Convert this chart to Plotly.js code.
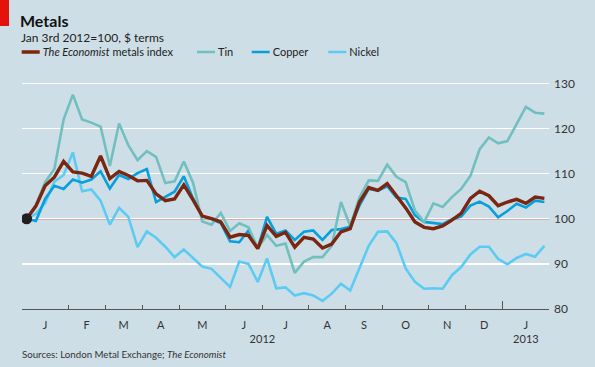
<!DOCTYPE html>
<html><head><meta charset="utf-8">
<script src="https://cdn.plot.ly/plotly-3.0.1.min.js"></script>
<style>html,body{margin:0;padding:0;background:#cedee6}#chart{width:595px;height:367px}</style>
</head><body><div id="chart"></div>
<script>
// Weekly observations (Tuesdays), Jan 3rd 2012 = 100
const weekDates = [
 "2012-01-03","2012-01-10","2012-01-17","2012-01-24","2012-01-31",
 "2012-02-07","2012-02-14","2012-02-21","2012-02-28",
 "2012-03-06","2012-03-13","2012-03-20","2012-03-27",
 "2012-04-03","2012-04-10","2012-04-17","2012-04-24",
 "2012-05-01","2012-05-08","2012-05-15","2012-05-22","2012-05-29",
 "2012-06-05","2012-06-12","2012-06-19","2012-06-26",
 "2012-07-03","2012-07-10","2012-07-17","2012-07-24","2012-07-31",
 "2012-08-07","2012-08-14","2012-08-21","2012-08-28",
 "2012-09-04","2012-09-11","2012-09-18","2012-09-25",
 "2012-10-02","2012-10-09","2012-10-16","2012-10-23","2012-10-30",
 "2012-11-06","2012-11-13","2012-11-20","2012-11-27",
 "2012-12-04","2012-12-11","2012-12-18","2012-12-25",
 "2013-01-01","2013-01-08","2013-01-15","2013-01-22","2013-01-29"];

const economistIndex = [100,102.8,107.3,109.2,112.7,110.4,110.1,109.4,113.9,108.9,110.5,109.6,108.4,108.5,105.5,104,104.4,107.5,104.2,100.6,100,99.3,95.9,96.5,96.3,93.4,98.5,96.1,97,93.7,95.9,95.5,93.5,94.4,97.1,97.8,103.7,106.9,106.3,107.8,105.1,102.4,99.3,98.1,97.8,98.4,99.7,101.2,104.5,106.1,105.1,102.9,103.7,104.3,103.4,104.8,104.5];
const tin = [100,103,108.1,111,122,127.5,122,121.3,120.4,111.7,121.1,116.3,113,115,113.7,107.9,108.3,112.7,108,99.4,98.7,101.3,97.3,99,98.1,93.5,96.4,94,94.5,88,90.5,91.5,91.5,94,103.7,98.4,104.7,108.5,108.4,112,109.3,108.1,101.8,99.3,103.4,102.6,104.8,106.6,109.5,115.4,118,116.7,117.2,120.9,124.8,123.5,123.3];
const copper = [100,99.5,104.4,107.3,106.6,108.7,108,108.7,110.5,106.7,109.7,108.8,110.1,111,103.7,104.8,106,109.4,104.5,100.5,100,99,95,94.8,97.4,93.4,100.4,96.7,97.4,95.3,97.1,97.4,95.3,97.5,97.7,98.2,102.9,106.6,106.2,107.2,104.7,104.4,100.8,99.3,99,98.8,99.9,100.5,102.9,103.8,102.7,100.3,101.7,103.3,102.5,104,103.7];
const nickel = [100,101.1,103.5,108.2,109.7,114.7,106.1,106.5,104,98.7,102.4,100.4,93.7,97.2,95.8,93.8,91.5,93.2,91.3,89.4,88.9,87,84.9,90.5,90,86,91.2,84.6,84.8,83,83.5,83,81.8,83.4,85.6,84.1,89,94,97.1,97.2,94.6,89,86,84.5,84.6,84.5,87.5,89.3,92.1,93.8,93.8,91.1,89.9,91.3,92.2,91.6,94];

const monthLetters = ["J","F","M","A","M","J","J","A","S","O","N","D"];
const yTickVals = [80,90,100,110,120,130];
const seriesNames = ["<i>The Economist</i> metals index","Tin","Copper","Nickel"];

// ---- derived axis structure (one slot per week) ----
const idx = weekDates.map((d,i)=>i);
const n = weekDates.length;
const mon = weekDates.map(d=>+d.slice(5,7));
const yr = weekDates.map(d=>d.slice(0,4));
const monthBounds = [], monthMid = [], monthText = [];
const yearBounds = [], yearMid = [], yearText = [];
for (let i=0;i<n;i++){
  if (i===0 || mon[i]!==mon[i-1]) monthBounds.push(i-0.5);
  if (i===0 || yr[i]!==yr[i-1]) yearBounds.push(i-0.5);
}
monthBounds.push(n-0.5);
for (let k=0;k<monthBounds.length-1;k++){
  monthMid.push((monthBounds[k]+monthBounds[k+1])/2);
  monthText.push(monthLetters[mon[monthBounds[k]+0.5]-1]);
}
const yb = yearBounds.concat([n-0.5]);
for (let k=0;k<yb.length-1;k++){
  yearMid.push((yb[k]+yb[k+1])/2);
  yearText.push(yr[yb[k]+0.5]);
}
const minorBounds = monthBounds.filter(b=>yearBounds.indexOf(b)<0);

const FONT = "Lato, 'Open Sans', sans-serif";
const xr = [-0.5, n-0.5];

const W=595, H=367, L=22, R=46, T=82, B=58;
const pw = W-L-R, ph = H-T-B;
const px = v => (v-L)/pw;          // pixel -> paper x
const py = v => (H-B-v)/ph;        // pixel -> paper y

const traces = [
  {x: idx, y: nickel, name: seriesNames[3], legend:"legend4", mode:"lines", line:{color:"#5ccbf3", width:2.6}, hoverinfo:"skip"},
  {x: idx, y: copper, name: seriesNames[2], legend:"legend3", mode:"lines", line:{color:"#079fdc", width:2.6}, hoverinfo:"skip"},
  {x: idx, y: tin, name: seriesNames[1], legend:"legend2", mode:"lines", line:{color:"#72bfbf", width:2.6}, hoverinfo:"skip"},
  {x: idx, y: economistIndex, name: seriesNames[0], legend:"legend", mode:"lines", line:{color:"#7a2611", width:3.4}, hoverinfo:"skip"},
  {x: [idx[0]], y: [economistIndex[0]], mode:"markers", marker:{color:"#231f20", size:11}, showlegend:false, hoverinfo:"skip"},
  {x: [], y: [], xaxis:"x2", showlegend:false, hoverinfo:"skip"},
  {x: [], y: [], xaxis:"x3", showlegend:false, hoverinfo:"skip"}
];

const legendBase = {orientation:"h", xanchor:"left", y: py(52), yanchor:"middle",
  font:{size:11, color:"#222", family:FONT}, bgcolor:"rgba(0,0,0,0)", borderwidth:0};
const legendTextX = [42.7, 218, 272.7, 349.3];

const layout = {
  width: W, height: H,
  margin: {l:L, r:R, t:T, b:B, autoexpand:false},
  paper_bgcolor: "#cedee6", plot_bgcolor: "#cedee6",
  font: {family: FONT, color: "#222", size: 11},
  showlegend: true,
  legend:  Object.assign({}, legendBase, {x: px(legendTextX[0]-40)}),
  legend2: Object.assign({}, legendBase, {x: px(legendTextX[1]-40)}),
  legend3: Object.assign({}, legendBase, {x: px(legendTextX[2]-40)}),
  legend4: Object.assign({}, legendBase, {x: px(legendTextX[3]-40)}),
  title: {text:"<b>Metals</b>", font:{size:16, color:"#111", family:FONT},
          x: 20/W, xanchor:"left", xref:"container", y: 1-21/H, yanchor:"middle", yref:"container"},
  xaxis: {range: xr, showgrid:false, zeroline:false, showline:true, linecolor:"#555", linewidth:1,
          tickmode:"array", tickvals: yearBounds, ticks:"inside", ticklen:8, tickcolor:"#555", tickwidth:1,
          showticklabels:false,
          minor:{tickmode:"array", tickvals: minorBounds, ticks:"inside", ticklen:4, tickcolor:"#555", tickwidth:1, showgrid:false}},
  xaxis2: {range: xr, overlaying:"x", anchor:"y", side:"bottom", showgrid:false, zeroline:false, showline:false,
           tickmode:"array", tickvals: monthMid, ticktext: monthText, ticks:"", ticklabelstandoff:8,
           tickfont:{size:11, color:"#333"}},
  xaxis3: {range: xr, overlaying:"x", anchor:"y", side:"bottom", showgrid:false, zeroline:false, showline:false,
           tickmode:"array", tickvals: yearMid, ticktext: yearText, ticks:"", ticklabelstandoff:22,
           tickfont:{size:11, color:"#333"}},
  yaxis: {range:[80,130.3], side:"right", tickmode:"array", tickvals: yTickVals, ticks:"", ticklabelstandoff:4,
          showgrid:true, gridcolor:"#ffffff", gridwidth:1.5, zeroline:false, showline:false,
          tickfont:{size:12, color:"#333"}},
  shapes: [
    {type:"line", xref:"paper", x0:0, x1:1, yref:"y", y0:100, y1:100, line:{color:"#e3120b", width:1}, layer:"below"},
    {type:"rect", xref:"paper", yref:"paper", x0:px(0), x1:px(9), y0:py(26), y1:py(0), fillcolor:"#e3120b", line:{width:0}}
  ],
  annotations: [
    {text:"Jan 3rd 2012=100, $ terms", xref:"paper", yref:"paper", x:px(19), y:py(37), xanchor:"left", yanchor:"middle",
     showarrow:false, font:{size:12, color:"#222"}},
    {text:"Sources: London Metal Exchange; <i>The Economist</i>", xref:"paper", yref:"paper", x:px(20), y:py(354),
     xanchor:"left", yanchor:"middle", showarrow:false, font:{size:9.7, color:"#333"}}
  ]
};

Plotly.newPlot("chart", traces, layout, {staticPlot:true, displayModeBar:false}).then(gd => {
  // shorter legend keys, as in the original (key ends just before the label)
  gd.querySelectorAll(".legendlines path").forEach(p => p.setAttribute("d", "M19,0h18"));
});
</script></body></html>
